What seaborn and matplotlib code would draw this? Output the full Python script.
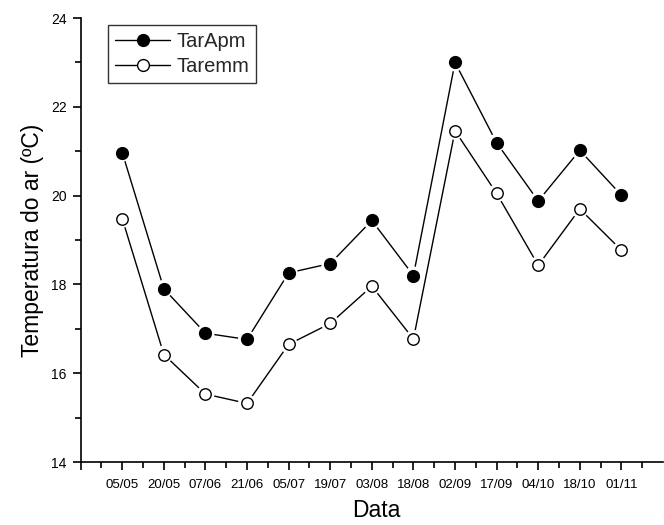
import numpy as np
import pandas as pd
import matplotlib
matplotlib.use("Agg")
import matplotlib.pyplot as plt
from matplotlib.lines import Line2D
from matplotlib.ticker import MultipleLocator, FixedLocator
import seaborn as sns

dates = ["05/05", "20/05", "07/06", "21/06", "05/07", "19/07", "03/08",
         "18/08", "02/09", "17/09", "04/10", "18/10", "01/11"]
tarapm = [20.97, 17.90, 16.90, 16.76, 18.26, 18.47, 19.44, 18.20, 23.00,
          21.19, 19.88, 21.02, 20.01]
taremm = [19.48, 16.42, 15.53, 15.32, 16.65, 17.12, 17.96, 16.77, 21.46,
          20.05, 18.43, 19.70, 18.77]

sns.set_theme(style="ticks")
plt.rcParams["font.family"] = ["Liberation Sans", "DejaVu Sans"]

pos = np.arange(1, len(dates) + 1)
df = pd.DataFrame({"pos": pos, "TarApm": tarapm, "Taremm": taremm})

fig = plt.figure(figsize=(6.64, 5.25), dpi=100)
ax = fig.add_axes([0.1215, 0.12, 0.877, 0.8457])

for col in ["TarApm", "Taremm"]:
    sns.lineplot(data=df, x="pos", y=col, ax=ax, color="black", linewidth=1.0,
                 zorder=1, legend=False)
    sns.scatterplot(data=df, x="pos", y=col, ax=ax, color="white", s=170,
                    edgecolor="none", zorder=2, legend=False)

sns.scatterplot(data=df, x="pos", y="TarApm", ax=ax, color="black", s=72,
                edgecolor="black", linewidth=1.0, zorder=3, legend=False)
sns.scatterplot(data=df, x="pos", y="Taremm", ax=ax, color="white", s=68,
                edgecolor="black", linewidth=1.0, zorder=3, legend=False)

ax.set_xlim(0, 14)
ax.set_ylim(14, 24)
ax.xaxis.set_major_locator(FixedLocator(list(range(0, 14))))
ax.set_xticklabels([""] + dates)
ax.xaxis.set_minor_locator(FixedLocator(list(np.arange(0.5, 14, 1.0))))
ax.yaxis.set_major_locator(MultipleLocator(2))
ax.yaxis.set_minor_locator(MultipleLocator(1))

ax.tick_params(axis="both", which="major", direction="out", length=6,
               width=1.2, color="black", labelcolor="black")
ax.tick_params(axis="both", which="minor", direction="out", length=4,
               width=1.2, color="black")
ax.tick_params(axis="x", labelsize=9.5, pad=6)
ax.tick_params(axis="y", labelsize=10, pad=4)

for s in ["top", "right"]:
    ax.spines[s].set_visible(False)
for s in ["left", "bottom"]:
    ax.spines[s].set_color("black")
    ax.spines[s].set_linewidth(1.2)

ax.set_xlabel("Data", fontsize=16.5, color="black")
ax.set_ylabel("Temperatura do ar (ºC)", fontsize=16.5, color="black")
ax.xaxis.set_label_coords(0.507, -0.083)
ax.yaxis.set_label_coords(-0.063, 0.5)

handles = [
    Line2D([0], [0], color="black", lw=1.0, marker="o", markersize=8.5,
           markerfacecolor="black", markeredgecolor="black"),
    Line2D([0], [0], color="black", lw=1.0, marker="o", markersize=8.5,
           markerfacecolor="white", markeredgecolor="black"),
]
leg = ax.legend(handles, ["TarApm", "Taremm"], loc="upper left",
                bbox_to_anchor=(0.047, 0.984), fontsize=14.5, frameon=True,
                fancybox=False, edgecolor="black", handlelength=2.75,
                handletextpad=0.3, borderpad=0.35, labelspacing=0.3,
                borderaxespad=0.0)
leg.get_frame().set_linewidth(1.0)

fig.savefig("out.png", dpi=100)
